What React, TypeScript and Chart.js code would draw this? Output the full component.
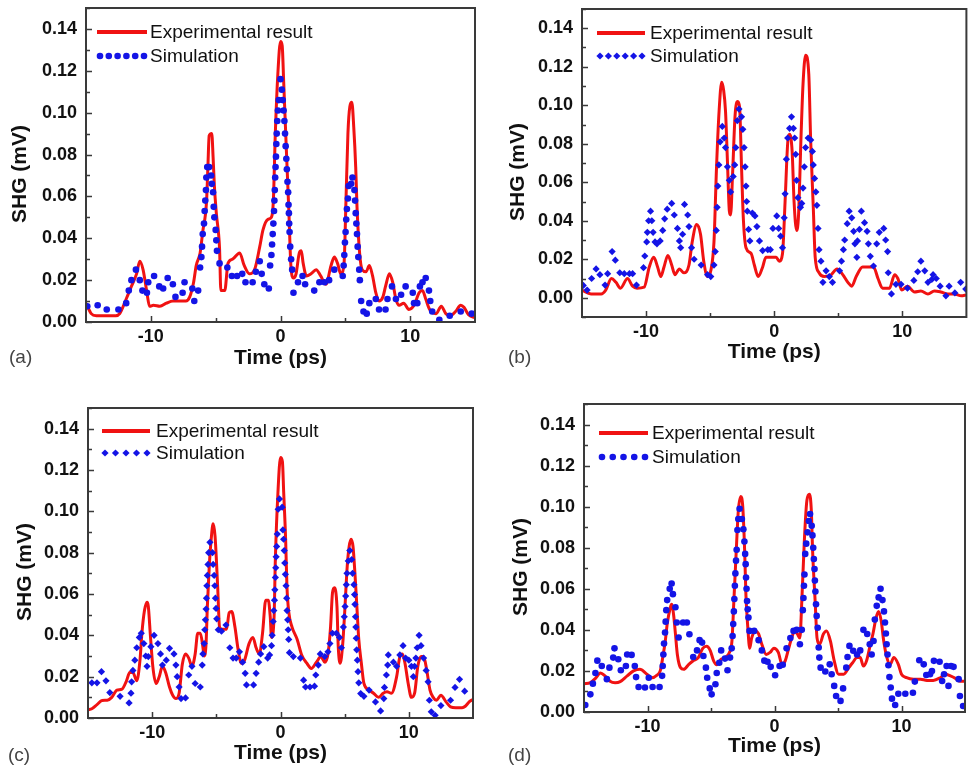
import React, { useEffect, useRef } from "react";
import { Chart, registerables } from "chart.js";

Chart.register(...registerables);

type Pt = [number, number];

// ---------- data: [time (ps), SHG (mV)] ----------
const expA: Pt[] = [
  [-15, 0.009], [-14.6, 0.004], [-14.2, 0.003], [-13.5, 0.003], [-12.7, 0.003], [-12.4, 0.004],
  [-11.9, 0.011], [-11.5, 0.017], [-11.1, 0.023], [-10.85, 0.029], [-10.6, 0.025], [-10.3, 0.014],
  [-10.1, 0.0075], [-9.8, 0.008], [-9.3, 0.0075], [-8.8, 0.009], [-8.3, 0.01], [-7.3, 0.01],
  [-7.0, 0.012], [-6.7, 0.019], [-6.5, 0.027], [-6.2, 0.033], [-6.0, 0.043], [-5.7, 0.058],
  [-5.6, 0.074], [-5.5, 0.089], [-5.3, 0.09], [-5.2, 0.079], [-5.1, 0.065], [-4.95, 0.052],
  [-4.7, 0.035], [-4.6, 0.015], [-4.3, 0.015], [-4.05, 0.028], [-3.7, 0.03], [-3.15, 0.033],
  [-2.8, 0.027], [-2.4, 0.023], [-2.0, 0.025], [-1.6, 0.036], [-1.35, 0.044], [-0.97, 0.049],
  [-0.7, 0.05], [-0.55, 0.058], [-0.4, 0.09], [-0.2, 0.119], [0, 0.134], [0.13, 0.132],
  [0.25, 0.114], [0.44, 0.084], [0.65, 0.052], [0.8, 0.027], [1.0, 0.021], [1.2, 0.023],
  [1.45, 0.033], [1.6, 0.034], [1.75, 0.028], [2.0, 0.022], [2.35, 0.023], [2.75, 0.025],
  [3.1, 0.022], [3.5, 0.018], [3.9, 0.027], [4.15, 0.031], [4.4, 0.028], [4.65, 0.023],
  [4.9, 0.028], [5.05, 0.058], [5.2, 0.09], [5.35, 0.103], [5.5, 0.105], [5.65, 0.093],
  [5.8, 0.074], [5.9, 0.055], [6.1, 0.033], [6.3, 0.025], [6.6, 0.024], [6.85, 0.027],
  [7.1, 0.022], [7.35, 0.014], [7.6, 0.01], [7.9, 0.012], [8.1, 0.017], [8.4, 0.023],
  [8.65, 0.019], [8.9, 0.011], [9.15, 0.008], [9.5, 0.009], [9.9, 0.006], [10.3, 0.008],
  [10.7, 0.014], [10.95, 0.015], [11.2, 0.011], [11.5, 0.006], [12.0, 0.004], [12.4, 0.0075],
  [12.75, 0.004], [13.1, 0.003], [13.5, 0.005], [13.9, 0.008], [14.15, 0.007], [14.5, 0.0035],
  [15, 0.002],
];

const simA: Pt[] = [
  [-14.9, 0.0075], [-14.1, 0.008], [-13.4, 0.006], [-12.5, 0.006], [-11.9, 0.009], [-11.7, 0.015],
  [-11.5, 0.02], [-11.15, 0.025], [-10.85, 0.02], [-10.65, 0.015], [-10.3, 0.014], [-10.2, 0.019],
  [-9.75, 0.022], [-9.35, 0.017], [-9.05, 0.016], [-8.7, 0.021], [-8.3, 0.018], [-8.1, 0.012],
  [-7.55, 0.014], [-7.4, 0.019], [-6.8, 0.016], [-6.65, 0.01], [-6.35, 0.015], [-6.2, 0.026],
  [-6.1, 0.031], [-6.05, 0.036], [-6.0, 0.042], [-5.9, 0.047], [-5.85, 0.053], [-5.8, 0.058],
  [-5.75, 0.063], [-5.72, 0.069], [-5.65, 0.074], [-5.5, 0.074], [-5.35, 0.07], [-5.3, 0.066],
  [-5.2, 0.062], [-5.15, 0.055], [-5.1, 0.05], [-5.0, 0.044], [-4.95, 0.039], [-4.9, 0.034],
  [-4.7, 0.028], [-4.1, 0.026], [-3.75, 0.022], [-3.35, 0.022], [-2.95, 0.023], [-2.7, 0.019],
  [-2.15, 0.019], [-1.9, 0.024], [-1.6, 0.029], [-1.45, 0.023], [-1.25, 0.018], [-0.9, 0.016],
  [-0.8, 0.027], [-0.7, 0.032], [-0.65, 0.037], [-0.6, 0.042], [-0.55, 0.047], [-0.5, 0.053],
  [-0.47, 0.058], [-0.44, 0.063], [-0.41, 0.069], [-0.38, 0.074], [-0.35, 0.079], [-0.32, 0.085],
  [-0.29, 0.09], [-0.25, 0.096], [-0.2, 0.101], [-0.14, 0.106], [0, 0.116], [0.1, 0.111],
  [0.17, 0.106], [0.24, 0.101], [0.3, 0.096], [0.35, 0.09], [0.4, 0.084], [0.45, 0.078],
  [0.49, 0.073], [0.54, 0.067], [0.59, 0.062], [0.62, 0.056], [0.65, 0.052], [0.67, 0.047],
  [0.7, 0.043], [0.75, 0.036], [0.82, 0.03], [0.9, 0.025], [1.0, 0.014], [1.35, 0.019],
  [1.7, 0.022], [1.9, 0.018], [2.6, 0.015], [3.0, 0.019], [3.4, 0.019], [3.75, 0.02],
  [4.15, 0.025], [4.8, 0.022], [4.87, 0.027], [4.92, 0.032], [4.97, 0.038], [5.02, 0.043],
  [5.07, 0.049], [5.12, 0.054], [5.2, 0.059], [5.25, 0.065], [5.45, 0.066], [5.55, 0.069],
  [5.7, 0.063], [5.75, 0.058], [5.8, 0.052], [5.85, 0.047], [5.9, 0.042], [5.95, 0.036],
  [6.0, 0.031], [6.07, 0.025], [6.12, 0.02], [6.22, 0.01], [6.4, 0.005], [6.65, 0.004],
  [6.85, 0.009], [7.35, 0.011], [7.6, 0.006], [8.1, 0.006], [8.25, 0.011], [8.6, 0.017],
  [8.9, 0.011], [9.3, 0.013], [9.65, 0.017], [10.2, 0.014], [10.3, 0.009], [10.55, 0.009],
  [10.75, 0.017], [10.95, 0.019], [11.2, 0.021], [11.45, 0.015], [11.55, 0.01], [11.7, 0.005],
  [12.25, 0.001], [13.05, 0.003], [13.9, 0.005], [14.75, 0.004],
];

const expB: Pt[] = [
  [-15, 0.004], [-14.3, 0.002], [-13.5, 0.002], [-13.15, 0.004], [-12.7, 0.01], [-12.35, 0.008],
  [-12.0, 0.005], [-11.45, 0.01], [-11.05, 0.006], [-10.7, 0.005], [-10.15, 0.0055], [-9.75, 0.016],
  [-9.4, 0.021], [-9.1, 0.016], [-8.85, 0.011], [-8.6, 0.016], [-8.3, 0.022], [-8.0, 0.017],
  [-7.75, 0.012], [-7.4, 0.015], [-7.05, 0.013], [-6.65, 0.017], [-6.4, 0.029], [-6.05, 0.038],
  [-5.75, 0.033], [-5.5, 0.019], [-5.2, 0.011], [-4.95, 0.014], [-4.7, 0.029], [-4.5, 0.068],
  [-4.3, 0.097], [-4.1, 0.112], [-3.95, 0.108], [-3.8, 0.097], [-3.65, 0.071], [-3.5, 0.045],
  [-3.4, 0.043], [-3.25, 0.064], [-3.05, 0.095], [-2.85, 0.102], [-2.7, 0.099], [-2.55, 0.068],
  [-2.4, 0.04], [-2.2, 0.026], [-1.8, 0.023], [-1.55, 0.017], [-1.25, 0.011], [-0.9, 0.016],
  [-0.65, 0.021], [-0.25, 0.021], [0.15, 0.021], [0.4, 0.019], [0.65, 0.023], [0.85, 0.05],
  [1.05, 0.08], [1.2, 0.085], [1.4, 0.076], [1.55, 0.05], [1.75, 0.035], [1.9, 0.043],
  [2.1, 0.085], [2.25, 0.111], [2.45, 0.126], [2.7, 0.116], [2.85, 0.081], [3.05, 0.047],
  [3.2, 0.021], [3.5, 0.013], [3.9, 0.011], [4.45, 0.012], [4.9, 0.015], [5.35, 0.012],
  [5.75, 0.008], [6.05, 0.006], [6.4, 0.011], [6.9, 0.016], [7.3, 0.016], [7.75, 0.016],
  [8.1, 0.01], [8.45, 0.005], [9.0, 0.005], [9.4, 0.012], [9.65, 0.01], [9.95, 0.004],
  [10.4, 0.006], [10.95, 0.003], [11.45, 0.0035], [12.0, 0.002], [12.5, 0.0035], [13.0, 0.003],
  [13.55, 0.002], [14.05, 0.002], [14.6, 0.001], [15, 0.0015],
];

const simB: Pt[] = [
  [-14.9, 0.0064], [-14.6, 0.004], [-14.25, 0.01], [-13.9, 0.015], [-13.6, 0.012], [-13.2, 0.0066],
  [-13.0, 0.0125], [-12.65, 0.024], [-12.4, 0.0195], [-12.05, 0.013], [-11.7, 0.0125], [-11.3, 0.0125],
  [-11.05, 0.0125], [-10.75, 0.0066], [-10.2, 0.0156], [-10.1, 0.0217], [-9.95, 0.029], [-9.9, 0.034],
  [-9.8, 0.04], [-9.65, 0.045], [-9.55, 0.04], [-9.45, 0.034], [-9.3, 0.029], [-9.15, 0.028],
  [-8.9, 0.0295], [-8.7, 0.035], [-8.55, 0.041], [-8.35, 0.046], [-8.0, 0.049], [-7.8, 0.043],
  [-7.55, 0.036], [-7.4, 0.0295], [-7.3, 0.026], [-7.15, 0.033], [-7.0, 0.0485], [-6.75, 0.043],
  [-6.65, 0.037], [-6.45, 0.026], [-6.25, 0.02], [-5.7, 0.017], [-5.2, 0.012], [-4.95, 0.011],
  [-4.7, 0.017], [-4.6, 0.024], [-4.52, 0.035], [-4.45, 0.047], [-4.4, 0.058], [-4.32, 0.069],
  [-4.22, 0.081], [-4.05, 0.089], [-3.9, 0.083], [-3.8, 0.078], [-3.65, 0.068], [-3.5, 0.061],
  [-3.4, 0.055], [-3.2, 0.063], [-3.08, 0.069], [-3.0, 0.078], [-2.88, 0.092], [-2.75, 0.098],
  [-2.55, 0.094], [-2.45, 0.0875], [-2.35, 0.078], [-2.27, 0.068], [-2.2, 0.058], [-2.15, 0.05],
  [-2.1, 0.045], [-2.0, 0.0355], [-1.9, 0.0295], [-1.7, 0.044], [-1.5, 0.0425], [-1.35, 0.037],
  [-1.15, 0.0295], [-0.9, 0.0245], [-0.5, 0.025], [-0.3, 0.025], [-0.1, 0.036], [0.2, 0.0425],
  [0.35, 0.036], [0.5, 0.032], [0.65, 0.026], [0.78, 0.0415], [0.85, 0.054], [0.95, 0.072],
  [1.05, 0.083], [1.2, 0.088], [1.35, 0.094], [1.5, 0.088], [1.6, 0.083], [1.68, 0.0745],
  [1.75, 0.061], [1.85, 0.052], [2.05, 0.047], [2.15, 0.049], [2.25, 0.057], [2.35, 0.068],
  [2.45, 0.078], [2.65, 0.083], [2.85, 0.082], [2.98, 0.076], [3.05, 0.069], [3.15, 0.062],
  [3.25, 0.055], [3.33, 0.048], [3.42, 0.036], [3.5, 0.025], [3.65, 0.019], [3.8, 0.008],
  [4.05, 0.014], [4.3, 0.011], [4.55, 0.008], [5.1, 0.014], [5.25, 0.019], [5.4, 0.025],
  [5.5, 0.03], [5.7, 0.0385], [5.85, 0.045], [6.05, 0.0415], [6.2, 0.0345], [6.3, 0.028],
  [6.45, 0.021], [6.5, 0.0295], [6.65, 0.0355], [6.8, 0.045], [7.05, 0.039], [7.25, 0.0345],
  [7.35, 0.028], [7.5, 0.0215], [7.75, 0.0165], [8.0, 0.028], [8.2, 0.034], [8.55, 0.036],
  [8.7, 0.03], [8.85, 0.024], [8.9, 0.013], [9.15, 0.002], [9.5, 0.007], [9.9, 0.007],
  [10.4, 0.005], [10.9, 0.009], [11.2, 0.0135], [11.45, 0.019], [11.75, 0.014], [12.0, 0.008],
  [12.3, 0.0095], [12.4, 0.012], [12.65, 0.01], [12.95, 0.006], [13.4, 0.001], [13.65, 0.006],
  [14.1, 0.0025], [14.55, 0.008], [14.95, 0.0045],
];

const expC: Pt[] = [
  [-15, 0.004], [-14.7, 0.0045], [-14.3, 0.0065], [-13.9, 0.0085], [-13.5, 0.0086], [-13.15, 0.01],
  [-12.75, 0.0135], [-12.35, 0.014], [-12.0, 0.018], [-11.75, 0.022], [-11.5, 0.022], [-11.2, 0.018],
  [-10.95, 0.028], [-10.8, 0.041], [-10.6, 0.052], [-10.4, 0.056], [-10.3, 0.054], [-10.15, 0.041],
  [-9.95, 0.025], [-9.7, 0.0167], [-9.45, 0.02], [-9.2, 0.025], [-8.95, 0.022], [-8.65, 0.015],
  [-8.4, 0.011], [-8.15, 0.0094], [-7.9, 0.012], [-7.65, 0.026], [-7.4, 0.031], [-7.15, 0.029],
  [-6.9, 0.025], [-6.65, 0.031], [-6.45, 0.041], [-6.25, 0.041], [-6.05, 0.0345], [-5.95, 0.03],
  [-5.8, 0.036], [-5.7, 0.054], [-5.55, 0.0735], [-5.4, 0.0865], [-5.25, 0.094], [-5.1, 0.088],
  [-4.9, 0.064], [-4.75, 0.044], [-4.6, 0.043], [-4.2, 0.043], [-4.0, 0.051], [-3.8, 0.0515],
  [-3.55, 0.044], [-3.3, 0.033], [-3.05, 0.0265], [-2.8, 0.028], [-2.45, 0.036], [-2.15, 0.039],
  [-1.9, 0.034], [-1.65, 0.031], [-1.4, 0.041], [-1.15, 0.057], [-0.95, 0.057], [-0.8, 0.049],
  [-0.7, 0.039], [-0.5, 0.049], [-0.4, 0.077], [-0.2, 0.109], [0, 0.126], [0.15, 0.124],
  [0.25, 0.109], [0.4, 0.0865], [0.5, 0.064], [0.65, 0.051], [0.9, 0.044], [1.3, 0.038],
  [1.65, 0.0305], [2.05, 0.0265], [2.4, 0.024], [2.8, 0.027], [3.15, 0.0297], [3.45, 0.027],
  [3.7, 0.031], [3.9, 0.044], [4.05, 0.0605], [4.2, 0.063], [4.4, 0.054], [4.5, 0.0345],
  [4.65, 0.0265], [4.85, 0.036], [5.0, 0.051], [5.2, 0.0735], [5.35, 0.083], [5.5, 0.0865],
  [5.65, 0.083], [5.8, 0.07], [5.95, 0.054], [6.1, 0.038], [6.3, 0.0265], [6.5, 0.0167],
  [6.9, 0.0135], [7.25, 0.012], [7.65, 0.01], [8.0, 0.012], [8.3, 0.0127], [8.65, 0.012],
  [9.05, 0.02], [9.3, 0.0297], [9.5, 0.031], [9.7, 0.0265], [9.95, 0.0167], [10.2, 0.01],
  [10.45, 0.012], [10.7, 0.025], [10.95, 0.0297], [11.15, 0.0297], [11.4, 0.023], [11.65, 0.0135],
  [11.9, 0.01], [12.15, 0.0086], [12.5, 0.011], [12.9, 0.0078], [13.25, 0.0054], [13.65, 0.005],
  [14.15, 0.005], [14.4, 0.0057], [14.7, 0.0078], [15, 0.009],
];

const simC: Pt[] = [
  [-14.7, 0.017], [-14.3, 0.017], [-13.95, 0.0224], [-13.6, 0.018], [-13.3, 0.0123], [-12.5, 0.0105],
  [-11.8, 0.0073], [-11.65, 0.012], [-11.6, 0.0175], [-11.5, 0.023], [-11.35, 0.028], [-11.2, 0.034],
  [-11.0, 0.039], [-10.85, 0.041], [-10.65, 0.036], [-10.5, 0.03], [-10.4, 0.025], [-10.3, 0.0297],
  [-10.1, 0.0345], [-9.85, 0.04], [-9.55, 0.036], [-9.35, 0.031], [-9.2, 0.0256], [-8.9, 0.028],
  [-8.65, 0.0337], [-8.3, 0.031], [-8.15, 0.0256], [-8.05, 0.02], [-7.9, 0.015], [-7.75, 0.0094],
  [-7.4, 0.0097], [-7.15, 0.0208], [-6.9, 0.025], [-6.65, 0.0167], [-6.25, 0.015], [-6.1, 0.0256],
  [-6.05, 0.031], [-5.95, 0.036], [-5.9, 0.0427], [-5.85, 0.0475], [-5.8, 0.0527], [-5.77, 0.058],
  [-5.74, 0.064], [-5.7, 0.069], [-5.65, 0.0743], [-5.6, 0.08], [-5.5, 0.085], [-5.3, 0.08],
  [-5.25, 0.0743], [-5.17, 0.069], [-5.12, 0.064], [-5.07, 0.058], [-5.02, 0.053], [-4.97, 0.048],
  [-4.85, 0.0427], [-4.6, 0.042], [-4.25, 0.045], [-3.95, 0.034], [-3.7, 0.029], [-3.45, 0.029],
  [-3.2, 0.032], [-2.95, 0.027], [-2.75, 0.0216], [-2.65, 0.016], [-2.1, 0.016], [-1.9, 0.0216],
  [-1.7, 0.027], [-1.55, 0.031], [-1.3, 0.0345], [-1.0, 0.029], [-0.85, 0.0305], [-0.7, 0.035],
  [-0.65, 0.04], [-0.57, 0.0467], [-0.52, 0.052], [-0.47, 0.057], [-0.44, 0.062], [-0.4, 0.068],
  [-0.37, 0.0727], [-0.34, 0.078], [-0.3, 0.083], [-0.25, 0.089], [-0.18, 0.101], [-0.08, 0.106],
  [0.13, 0.102], [0.19, 0.091], [0.24, 0.0865], [0.29, 0.081], [0.33, 0.075], [0.38, 0.0695],
  [0.43, 0.064], [0.48, 0.058], [0.51, 0.052], [0.56, 0.0475], [0.6, 0.0427], [0.64, 0.038],
  [0.7, 0.0316], [1.0, 0.0297], [1.55, 0.029], [1.8, 0.0183], [1.95, 0.015], [2.3, 0.015],
  [2.65, 0.0154], [2.75, 0.0208], [2.95, 0.0256], [3.1, 0.031], [3.45, 0.0297], [3.7, 0.032],
  [3.85, 0.036], [4.05, 0.041], [4.35, 0.041], [4.6, 0.039], [4.75, 0.034], [4.9, 0.044],
  [4.97, 0.049], [5.03, 0.054], [5.08, 0.059], [5.13, 0.0645], [5.18, 0.07], [5.28, 0.076],
  [5.4, 0.081], [5.55, 0.0767], [5.62, 0.07], [5.72, 0.0645], [5.77, 0.0597], [5.8, 0.055],
  [5.84, 0.049], [5.87, 0.044], [5.9, 0.0386], [5.94, 0.033], [5.99, 0.028], [6.04, 0.0224],
  [6.1, 0.017], [6.25, 0.0118], [6.5, 0.0105], [6.9, 0.0135], [7.4, 0.0078], [7.8, 0.0034],
  [8.05, 0.0094], [8.1, 0.0148], [8.25, 0.0208], [8.35, 0.0256], [8.4, 0.0305], [8.8, 0.027],
  [9.05, 0.025], [9.3, 0.0305], [9.55, 0.035], [9.75, 0.029], [10.0, 0.028], [10.2, 0.025],
  [10.35, 0.02], [10.45, 0.025], [10.55, 0.029], [10.65, 0.034], [10.8, 0.04], [10.95, 0.035],
  [11.15, 0.029], [11.35, 0.023], [11.5, 0.0175], [11.6, 0.0086], [11.75, 0.003], [12.05, 0.0013],
  [12.5, 0.006], [13.25, 0.0086], [13.6, 0.0148], [13.95, 0.0187], [14.35, 0.013],
];

const expD: Pt[] = [
  [-15, 0.0138], [-14.5, 0.0143], [-14.1, 0.0164], [-13.7, 0.019], [-13.35, 0.0176], [-12.95, 0.015],
  [-12.55, 0.0143], [-12.15, 0.0148], [-11.6, 0.0176], [-11.1, 0.02], [-10.6, 0.0208], [-10.05, 0.0184],
  [-9.65, 0.0167], [-9.25, 0.018], [-9.0, 0.02], [-8.8, 0.0265], [-8.6, 0.0346], [-8.45, 0.0428],
  [-8.2, 0.051], [-8.1, 0.0525], [-7.95, 0.0476], [-7.8, 0.038], [-7.65, 0.028], [-7.4, 0.0216],
  [-7.15, 0.0208], [-6.75, 0.0232], [-6.4, 0.025], [-6.0, 0.0265], [-5.65, 0.031], [-5.35, 0.032],
  [-5.05, 0.0298], [-4.8, 0.025], [-4.55, 0.023], [-4.2, 0.0257], [-3.9, 0.0265], [-3.55, 0.029],
  [-3.35, 0.0346], [-3.2, 0.054], [-3.0, 0.08], [-2.85, 0.098], [-2.65, 0.105], [-2.5, 0.1],
  [-2.35, 0.0785], [-2.25, 0.057], [-2.1, 0.041], [-1.95, 0.031], [-1.8, 0.036], [-1.5, 0.0395],
  [-1.25, 0.038], [-1.0, 0.033], [-0.65, 0.028], [-0.35, 0.029], [-0.05, 0.031], [0.3, 0.029],
  [0.6, 0.023], [0.85, 0.025], [1.1, 0.0306], [1.35, 0.036], [1.6, 0.0395], [1.8, 0.038],
  [2.0, 0.036], [2.15, 0.054], [2.35, 0.0834], [2.55, 0.103], [2.75, 0.106], [2.9, 0.098],
  [3.0, 0.0785], [3.2, 0.054], [3.35, 0.036], [3.55, 0.033], [3.85, 0.038], [4.1, 0.0395],
  [4.4, 0.0346], [4.7, 0.025], [5.05, 0.0184], [5.45, 0.0184], [5.85, 0.0216], [6.15, 0.024],
  [6.5, 0.0265], [6.75, 0.0265], [7.0, 0.0224], [7.25, 0.025], [7.55, 0.033], [7.75, 0.038],
  [8.0, 0.046], [8.2, 0.049], [8.4, 0.0444], [8.6, 0.0346], [8.85, 0.0265], [9.1, 0.0232],
  [9.4, 0.0265], [9.75, 0.0232], [10.0, 0.0184], [10.4, 0.0167], [10.95, 0.016], [11.5, 0.016],
  [12.0, 0.0154], [12.5, 0.0154], [13.05, 0.0167], [13.45, 0.0184], [13.85, 0.0176], [14.25, 0.0164],
  [14.6, 0.015], [15, 0.015],
];

const simD: Pt[] = [
  [-14.9, 0.0034], [-14.5, 0.0086], [-14.3, 0.0138], [-14.1, 0.019], [-13.95, 0.025], [-13.6, 0.0224],
  [-13.2, 0.016], [-13.0, 0.0216], [-12.7, 0.0265], [-12.6, 0.031], [-12.3, 0.0257], [-12.1, 0.0203],
  [-11.7, 0.0224], [-11.6, 0.028], [-11.25, 0.0278], [-11.0, 0.0224], [-10.9, 0.017], [-10.7, 0.0122],
  [-10.2, 0.0119], [-9.9, 0.0167], [-9.6, 0.0122], [-9.05, 0.0122], [-8.85, 0.0176], [-8.8, 0.0224],
  [-8.75, 0.028], [-8.7, 0.0333], [-8.62, 0.0387], [-8.57, 0.044], [-8.52, 0.0496], [-8.45, 0.0545],
  [-8.25, 0.06], [-8.1, 0.0626], [-8.0, 0.0574], [-7.8, 0.051], [-7.7, 0.0436], [-7.55, 0.0363],
  [-7.2, 0.0436], [-6.9, 0.0436], [-6.7, 0.0379], [-6.4, 0.0268], [-6.1, 0.03], [-5.9, 0.035],
  [-5.7, 0.0338], [-5.6, 0.0273], [-5.4, 0.0216], [-5.3, 0.0167], [-5.1, 0.0115], [-4.95, 0.0086],
  [-4.65, 0.0135], [-4.55, 0.019], [-4.35, 0.024], [-4.2, 0.03], [-3.9, 0.026], [-3.7, 0.0203],
  [-3.5, 0.0265], [-3.37, 0.031], [-3.3, 0.037], [-3.25, 0.0428], [-3.2, 0.049], [-3.16, 0.055],
  [-3.12, 0.0615], [-3.08, 0.0675], [-3.03, 0.0737], [-2.98, 0.079], [-2.92, 0.0886], [-2.85, 0.094],
  [-2.75, 0.099], [-2.57, 0.094], [-2.45, 0.089], [-2.37, 0.083], [-2.31, 0.077], [-2.27, 0.072],
  [-2.24, 0.0655], [-2.2, 0.06], [-2.16, 0.054], [-2.11, 0.05], [-2.05, 0.046], [-1.97, 0.0395],
  [-1.6, 0.0395], [-1.25, 0.035], [-1.0, 0.03], [-0.8, 0.025], [-0.55, 0.0245], [-0.3, 0.022],
  [0.05, 0.0179], [0.4, 0.0224], [0.65, 0.023], [0.95, 0.031], [1.25, 0.036], [1.5, 0.0395],
  [1.75, 0.04], [2.0, 0.033], [2.15, 0.04], [2.23, 0.0496], [2.28, 0.0555], [2.32, 0.0615],
  [2.36, 0.067], [2.42, 0.077], [2.5, 0.082], [2.6, 0.0875], [2.7, 0.093], [2.8, 0.0964],
  [2.93, 0.0907], [2.99, 0.086], [3.05, 0.08], [3.1, 0.0745], [3.15, 0.0696], [3.18, 0.064],
  [3.22, 0.0587], [3.27, 0.0525], [3.32, 0.0468], [3.4, 0.041], [3.48, 0.0314], [3.53, 0.0265],
  [3.63, 0.0216], [4.0, 0.0197], [4.35, 0.0232], [4.5, 0.0184], [4.7, 0.0127], [4.85, 0.0078],
  [5.2, 0.0054], [5.4, 0.0115], [5.65, 0.0216], [5.75, 0.0268], [5.9, 0.0322], [6.2, 0.0298],
  [6.5, 0.028], [6.75, 0.03], [7.0, 0.04], [7.3, 0.038], [7.5, 0.033], [7.65, 0.028],
  [7.8, 0.0346], [7.9, 0.045], [8.05, 0.0517], [8.2, 0.0558], [8.35, 0.06], [8.5, 0.0545],
  [8.62, 0.049], [8.7, 0.0436], [8.77, 0.0382], [8.83, 0.033], [8.9, 0.028], [8.97, 0.0228],
  [9.05, 0.017], [9.15, 0.0119], [9.25, 0.0065], [9.5, 0.0034], [9.75, 0.0089], [10.3, 0.0089],
  [10.9, 0.0094], [11.05, 0.0148], [11.4, 0.0252], [11.75, 0.0232], [11.95, 0.018], [12.25, 0.0184],
  [12.4, 0.02], [12.55, 0.0249], [13.0, 0.0245], [13.2, 0.0151], [13.35, 0.0184], [13.55, 0.0224],
  [13.7, 0.0127], [13.9, 0.0224], [14.1, 0.022], [14.5, 0.016], [14.6, 0.0078], [14.85, 0.0029],
];

const timeTicks = [-10, 0, 10];
const shgTicks = [0, 0.02, 0.04, 0.06, 0.08, 0.1, 0.12, 0.14];
const legendLabels = ["Experimental result", "Simulation"];
const panelLabels = ["(a)", "(b)", "(c)", "(d)"];
const xTitle = "Time (ps)";
const yTitle = "SHG (mV)";

// ---------- styles ----------
const RED = "#f01212";
const BLUE = "#1414e6";
const FRAME = "#3a3a3a";
const INK = "#111111";
const FONT = "'Liberation Sans', Arial, Helvetica, sans-serif";

type Marker = "circle" | "rectRot";

interface LegendPos {
  lineStart: number;
  lineEnd: number;
  textX: number;
  dy1: number;
  dy2: number;
  dots: number;
}

interface PanelCfg {
  exp: Pt[];
  sim: Pt[];
  marker: Marker;
  yMin: number;
  left: number;
  top: number;
  width: number;
  height: number;
  padRight: number;
  yTitleX: number;
  xTitlePad: number;
  legend: LegendPos;
}

const AXIS_W = 86;
const AXIS_H = 50;
const PAD_TOP = 8;

function drawMarker(ctx: CanvasRenderingContext2D, marker: Marker, x: number, y: number) {
  ctx.beginPath();
  if (marker === "circle") {
    ctx.arc(x, y, 3.3, 0, Math.PI * 2);
  } else {
    const r = 3.6;
    ctx.moveTo(x, y - r);
    ctx.lineTo(x + r, y);
    ctx.lineTo(x, y + r);
    ctx.lineTo(x - r, y);
    ctx.closePath();
  }
  ctx.fill();
}

function Panel({ cfg }: { cfg: PanelCfg }) {
  const ref = useRef<HTMLCanvasElement | null>(null);

  useEffect(() => {
    const canvas = ref.current;
    if (!canvas) return;

    const decor = {
      id: "decor",
      afterDatasetsDraw(chart: any) {
        const { ctx, chartArea: a, scales } = chart;
        const xs = scales.x;
        const ys = scales.y;
        ctx.save();
        // frame
        ctx.strokeStyle = FRAME;
        ctx.lineWidth = 2;
        ctx.strokeRect(a.left, a.top, a.right - a.left, a.bottom - a.top);
        // inward ticks (major + minor)
        ctx.lineWidth = 1.5;
        ctx.beginPath();
        for (let k = -2; k <= 15; k++) {
          const v = k * 0.01;
          if (v < ys.min - 1e-9 || v > ys.max + 1e-9) continue;
          const py = Math.round(ys.getPixelForValue(v)) + 0.5;
          const len = k % 2 === 0 ? 6 : 4;
          ctx.moveTo(a.left, py);
          ctx.lineTo(a.left + len, py);
        }
        for (let v = -10; v <= 10; v += 5) {
          const px = Math.round(xs.getPixelForValue(v)) + 0.5;
          const len = v % 10 === 0 ? 6 : 4;
          ctx.moveTo(px, a.bottom);
          ctx.lineTo(px, a.bottom - len);
        }
        ctx.stroke();

        // y-axis title
        ctx.save();
        ctx.translate(cfg.yTitleX, (a.top + a.bottom) / 2 + 9);
        ctx.rotate(-Math.PI / 2);
        ctx.font = `bold 21px ${FONT}`;
        ctx.fillStyle = INK;
        ctx.textAlign = "center";
        ctx.textBaseline = "middle";
        ctx.fillText(yTitle, 0, 0);
        ctx.restore();

        // legend
        const L = cfg.legend;
        const x0 = a.left + L.lineStart;
        const x1 = a.left + L.lineEnd;
        const y1 = a.top + L.dy1;
        const y2 = a.top + L.dy2;
        ctx.strokeStyle = RED;
        ctx.lineWidth = 4;
        ctx.beginPath();
        ctx.moveTo(x0, y1);
        ctx.lineTo(x1, y1);
        ctx.stroke();
        ctx.fillStyle = BLUE;
        for (let i = 0; i < L.dots; i++) {
          const px = x0 + 3 + (i * (x1 - x0 - 6)) / (L.dots - 1);
          drawMarker(ctx, cfg.marker, px, y2);
        }
        ctx.fillStyle = INK;
        ctx.font = `19px ${FONT}`;
        ctx.textAlign = "left";
        ctx.textBaseline = "middle";
        ctx.fillText(legendLabels[0], a.left + L.textX, y1 + 1);
        ctx.fillText(legendLabels[1], a.left + L.textX, y2 + 1);
        ctx.restore();
      },
    };

    const chart = new Chart(canvas, {
      type: "scatter",
      data: {
        datasets: [
          {
            label: legendLabels[1],
            data: cfg.sim.map(([x, y]) => ({ x, y })),
            showLine: false,
            pointStyle: cfg.marker,
            pointRadius: cfg.marker === "circle" ? 3.3 : 3.6,
            pointBorderWidth: 0,
            pointHoverRadius: 0,
            backgroundColor: BLUE,
            borderColor: BLUE,
          },
          {
            label: legendLabels[0],
            type: "line",
            data: cfg.exp.map(([x, y]) => ({ x, y })),
            showLine: true,
            borderColor: RED,
            backgroundColor: RED,
            borderWidth: 3,
            pointRadius: 0,
            pointHoverRadius: 0,
            fill: false,
            cubicInterpolationMode: "monotone",
          },
        ],
      } as any,
      options: {
        responsive: false,
        animation: false,
        devicePixelRatio: 1,
        events: [],
        layout: { padding: { top: PAD_TOP, right: cfg.padRight, left: 0, bottom: 0 } },
        plugins: {
          legend: { display: false },
          tooltip: { enabled: false },
          title: { display: false },
        },
        scales: {
          x: {
            type: "linear",
            min: -15,
            max: 15,
            afterBuildTicks(s: any) {
              s.ticks = timeTicks.map((value) => ({ value }));
            },
            afterFit(s: any) {
              s.height = AXIS_H;
              s.paddingLeft = 0;
              s.paddingRight = 0;
            },
            grid: { display: false, drawTicks: false },
            border: { display: false },
            ticks: {
              autoSkip: false,
              maxRotation: 0,
              padding: 4,
              color: INK,
              font: { family: FONT, size: 18, weight: "bold" },
              callback: (v: any) => String(v),
            },
            title: {
              display: true,
              text: xTitle,
              color: INK,
              font: { family: FONT, size: 21, weight: "bold" },
              padding: { top: 0, bottom: cfg.xTitlePad },
            },
          },
          y: {
            type: "linear",
            min: cfg.yMin,
            max: 0.15,
            afterBuildTicks(s: any) {
              s.ticks = shgTicks.map((value) => ({ value }));
            },
            afterFit(s: any) {
              s.width = AXIS_W;
              s.paddingTop = 0;
              s.paddingBottom = 0;
            },
            grid: { display: false, drawTicks: false },
            border: { display: false },
            ticks: {
              autoSkip: false,
              padding: 9,
              color: INK,
              font: { family: FONT, size: 18, weight: "bold" },
              callback: (v: any) => Math.abs(Number(v)).toFixed(2),
            },
          },
        },
      } as any,
      plugins: [decor],
    });

    return () => chart.destroy();
  }, [cfg]);

  return (
    <div
      style={{
        position: "absolute",
        left: cfg.left,
        top: cfg.top,
        width: cfg.width,
        height: cfg.height,
      }}
    >
      <canvas
        ref={ref}
        width={cfg.width}
        height={cfg.height}
        style={{ display: "block", width: cfg.width, height: cfg.height }}
      />
    </div>
  );
}

const panels: PanelCfg[] = [
  {
    exp: expA, sim: simA, marker: "circle", yMin: 0,
    left: 0, top: 0, width: 479, height: 372, padRight: 4,
    yTitleX: 20, xTitlePad: 1.5,
    legend: { lineStart: 11, lineEnd: 61, textX: 64, dy1: 24, dy2: 48, dots: 6 },
  },
  {
    exp: expB, sim: simB, marker: "rectRot", yMin: -0.01,
    left: 496, top: 1, width: 474, height: 366, padRight: 3,
    yTitleX: 22.5, xTitlePad: 2.5,
    legend: { lineStart: 15, lineEnd: 63, textX: 68, dy1: 24, dy2: 47, dots: 6 },
  },
  {
    exp: expC, sim: simC, marker: "rectRot", yMin: 0,
    left: 2, top: 400, width: 475, height: 368, padRight: 4,
    yTitleX: 23, xTitlePad: 2.5,
    legend: { lineStart: 14, lineEnd: 62, textX: 68, dy1: 23, dy2: 45, dots: 5 },
  },
  {
    exp: expD, sim: simD, marker: "circle", yMin: 0,
    left: 498, top: 396, width: 471, height: 366, padRight: 4,
    yTitleX: 23, xTitlePad: 3.5,
    legend: { lineStart: 15, lineEnd: 64, textX: 68, dy1: 29, dy2: 53, dots: 5 },
  },
];

const labelPos = [
  { left: 9, top: 346 },
  { left: 508, top: 346 },
  { left: 8, top: 744 },
  { left: 508, top: 744 },
];

export default function App() {
  return (
    <div
      style={{
        position: "relative",
        width: 970,
        height: 766,
        background: "#ffffff",
        overflow: "hidden",
      }}
    >
      <style>{"body{margin:0;}"}</style>
      {panels.map((p, i) => (
        <Panel key={i} cfg={p} />
      ))}
      {panelLabels.map((t, i) => (
        <div
          key={t}
          style={{
            position: "absolute",
            left: labelPos[i].left,
            top: labelPos[i].top,
            fontFamily: FONT,
            fontSize: 19,
            lineHeight: "22px",
            color: "#444",
          }}
        >
          {t}
        </div>
      ))}
    </div>
  );
}
